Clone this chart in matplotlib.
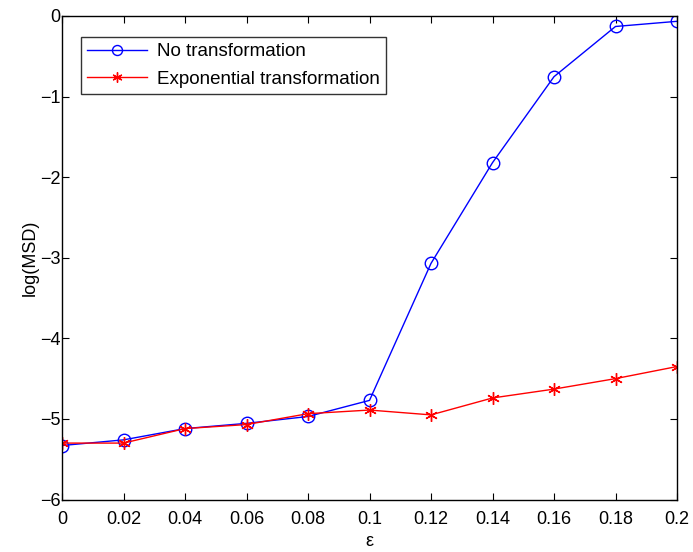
import matplotlib
matplotlib.use("Agg")
import matplotlib.pyplot as plt

eps = [0, 0.02, 0.04, 0.06, 0.08, 0.10, 0.12, 0.14, 0.16, 0.18, 0.20]
no_transform = [-5.33, -5.26, -5.12, -5.055, -4.97, -4.77, -3.07, -1.82, -0.753, -0.13, -0.066]
exp_transform = [-5.30, -5.30, -5.12, -5.07, -4.935, -4.89, -4.95, -4.74, -4.63, -4.50, -4.35]
xticks = [0, 0.02, 0.04, 0.06, 0.08, 0.1, 0.12, 0.14, 0.16, 0.18, 0.2]
xticklabels = ["0", "0.02", "0.04", "0.06", "0.08", "0.1", "0.12", "0.14", "0.16", "0.18", "0.2"]
yticks = [-6, -5, -4, -3, -2, -1, 0]
yticklabels = ["\u22126", "\u22125", "\u22124", "\u22123", "\u22122", "\u22121", "0"]

plt.rcParams['font.family'] = ['Liberation Sans', 'DejaVu Sans']

fig = plt.figure(figsize=(6.93, 5.52), dpi=100)
ax = fig.add_axes([62/693, 1-499.5/552, (677-62)/693, (499.5-16)/552])

ax.plot(eps, no_transform, color='#0000ff', lw=1.0, marker='o', ms=9,
        mfc='none', mec='#0000ff', mew=1.0, label='No transformation')
ax.plot(eps, exp_transform, color='#ff0000', lw=1.0, marker=(6, 2, 0), ms=9,
        mfc='#ff0000', mec='#ff0000', mew=1.0, label='Exponential transformation')

ax.set_xlim(0, 0.2)
ax.set_ylim(-6, 0)
ax.set_xticks(xticks)
ax.set_xticklabels(xticklabels)
ax.set_yticks(yticks)
ax.set_yticklabels(yticklabels)
ax.tick_params(direction='in', length=5, width=0.8, top=True, right=True,
               labelsize=13)
ax.tick_params(axis='x', pad=8)
ax.tick_params(axis='y', pad=1)
for s in ax.spines.values():
    s.set_linewidth(1.0)

ax.set_xlabel('\u03b5', fontsize=13, labelpad=4)
ax.set_ylabel('log(MSD)', fontsize=13, labelpad=1)

leg = ax.legend(loc='upper left', bbox_to_anchor=((80.7-62)/615, 1-(36.7-16)/483.5),
                fontsize=13.5, frameon=True, fancybox=False, edgecolor='black',
                handlelength=3.2, handletextpad=0.5, borderpad=0.35, labelspacing=0.55,
                borderaxespad=0, markerscale=0.8)
leg.get_frame().set_linewidth(1.0)

fig.savefig('out.png', dpi=100)
